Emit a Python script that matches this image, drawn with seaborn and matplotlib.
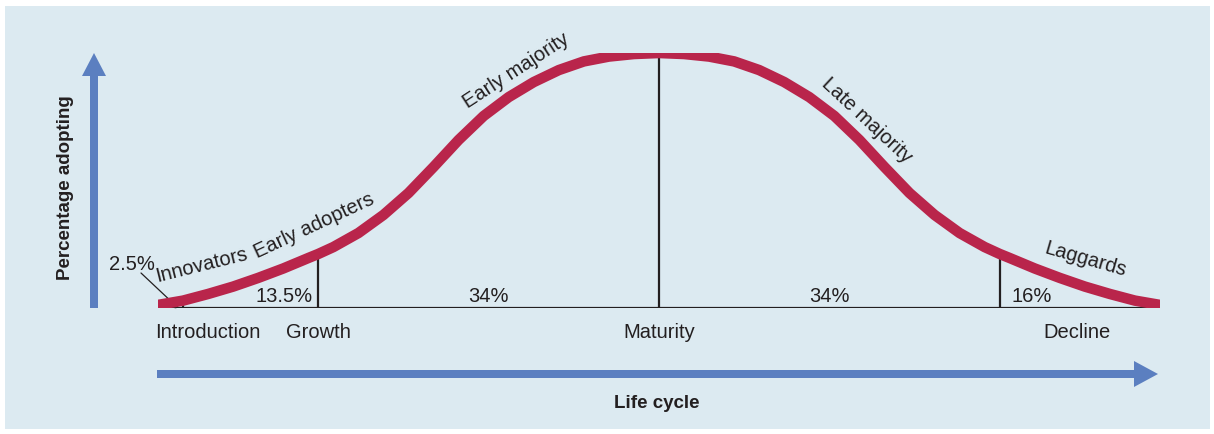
import numpy as np
import matplotlib
matplotlib.use("Agg")
import matplotlib.pyplot as plt
from matplotlib.patches import Rectangle, FancyArrow
import seaborn as sns

# DATOS
# eje x: porcentaje acumulado de adoptantes, eje y: tasa de adopcion (pico = 100)
cumulative_share = [0, 2.5, 5, 7.5, 10, 12.5, 15, 16, 17.5, 20, 22.5, 25, 27.5, 30,
                    32.5, 35, 37.5, 40, 42.5, 45, 47.5, 50, 52.5, 55, 57.5, 60, 62.5,
                    65, 67.5, 70, 72.5, 75, 77.5, 80, 82.5, 84, 85, 87.5, 90, 92.5,
                    95, 97.5, 100]
adoption_rate = [1.2, 2.9, 5.5, 8.4, 11.8, 15.5, 19.6, 21.2, 23.9, 29.4, 36.5, 45.1,
                 55.3, 65.9, 75.3, 82.7, 88.6, 93.3, 96.7, 98.6, 99.6, 100, 99.6,
                 98.6, 96.7, 93.3, 88.6, 82.7, 75.3, 65.9, 55.3, 45.1, 36.5, 29.4,
                 23.9, 21.2, 19.6, 15.5, 11.8, 8.4, 5.5, 2.9, 1.2]
boundaries = [2.5, 16, 50, 84]
categories = ["Innovators", "Early adopters", "Early majority", "Late majority", "Laggards"]
category_pct = ["2.5%", "13.5%", "34%", "34%", "16%"]
stages = ["Introduction", "Growth", "Maturity", "Decline"]

W, H = 1214, 434
BG = "#dceaf1"
BLUE = "#5b7fc0"
RED = "#b9254b"
INK = "#231f20"
FS = 14.5

sns.set_style("white")
plt.rcParams["font.family"] = ["Liberation Sans", "DejaVu Sans"]

fig = plt.figure(figsize=(W / 100, H / 100), dpi=100)
fig.patch.set_facecolor("white")

# capa en pixeles: fondo, flechas y rotulos
ax0 = fig.add_axes([0, 0, 1, 1])
ax0.set_xlim(0, W)
ax0.set_ylim(H, 0)
ax0.axis("off")
ax0.add_patch(Rectangle((5, 6), 1205, 423, color=BG, lw=0, zorder=0))
ax0.add_patch(FancyArrow(94, 308, 0, -255, width=8, head_width=24, head_length=23,
                         length_includes_head=True, color=BLUE, lw=0))
ax0.add_patch(FancyArrow(157, 374, 1001, 0, width=8, head_width=26, head_length=24,
                         length_includes_head=True, color=BLUE, lw=0))
ax0.text(65, 188, "Percentage adopting", rotation=90, ha="center", va="center",
         fontsize=13.5, fontweight="bold", color=INK)
ax0.text(657, 404, "Life cycle", ha="center", va="center",
         fontsize=13.5, fontweight="bold", color=INK)

# curva principal
ax = fig.add_axes([158 / W, 126 / H, 1002 / W, 255 / H], zorder=2)
ax.patch.set_alpha(0)
ax.set_xlim(0, 100)
ax.set_ylim(0, 100)
ax.axis("off")

ax.plot([cumulative_share[0], cumulative_share[-1]], [0, 0], color=INK, lw=1.6,
        solid_capstyle="butt", zorder=1)
for b in boundaries:
    top = adoption_rate[cumulative_share.index(b)]
    ax.plot([b, b], [0, top], color=INK, lw=1.6, zorder=1)

sns.lineplot(x=cumulative_share, y=adoption_rate, ax=ax, color=RED, linewidth=7.6,
             sort=False, solid_capstyle="round", solid_joinstyle="round", zorder=3)

# porcentajes por tramo
edges = [0] + boundaries + [100]
ax0.text(132, 270, category_pct[0], ha="center", va="baseline", fontsize=FS, color=INK)
ax0.plot([141, 175], [273, 305], color=INK, lw=0.9)
ax0.plot([175], [305], "o", color=INK, ms=3)
y_pct = (308 - 302) / 2.55
ax.text(edges[2] - 0.6, y_pct, category_pct[1], ha="right", va="baseline",
        fontsize=FS, color=INK)
for i in (2, 3):
    ax.text((edges[i] + edges[i + 1]) / 2, y_pct, category_pct[i],
            ha="center", va="baseline", fontsize=FS, color=INK)
ax.text(edges[4] + 1.2, y_pct, category_pct[4], ha="left", va="baseline",
        fontsize=FS, color=INK)

# nombres de categorias sobre la curva
label_pos = [(202, 265, 14), (314, 226, 25), (516, 71, 33), (867, 120, -43), (1085, 259, -16)]
for name, (px, py, rot) in zip(categories, label_pos):
    ax0.text(px, py, name, rotation=rot, rotation_mode="anchor", ha="center", va="center",
             fontsize=FS, color=INK)

# etapas del ciclo de vida
stage_x = [5.0, 16.0, 50.0, 91.7]
for name, sx in zip(stages, stage_x):
    ax.text(sx, -30 / 2.55, name, ha="center", va="baseline", fontsize=FS, color=INK)

fig.savefig("out.png", dpi=100, facecolor="white")
